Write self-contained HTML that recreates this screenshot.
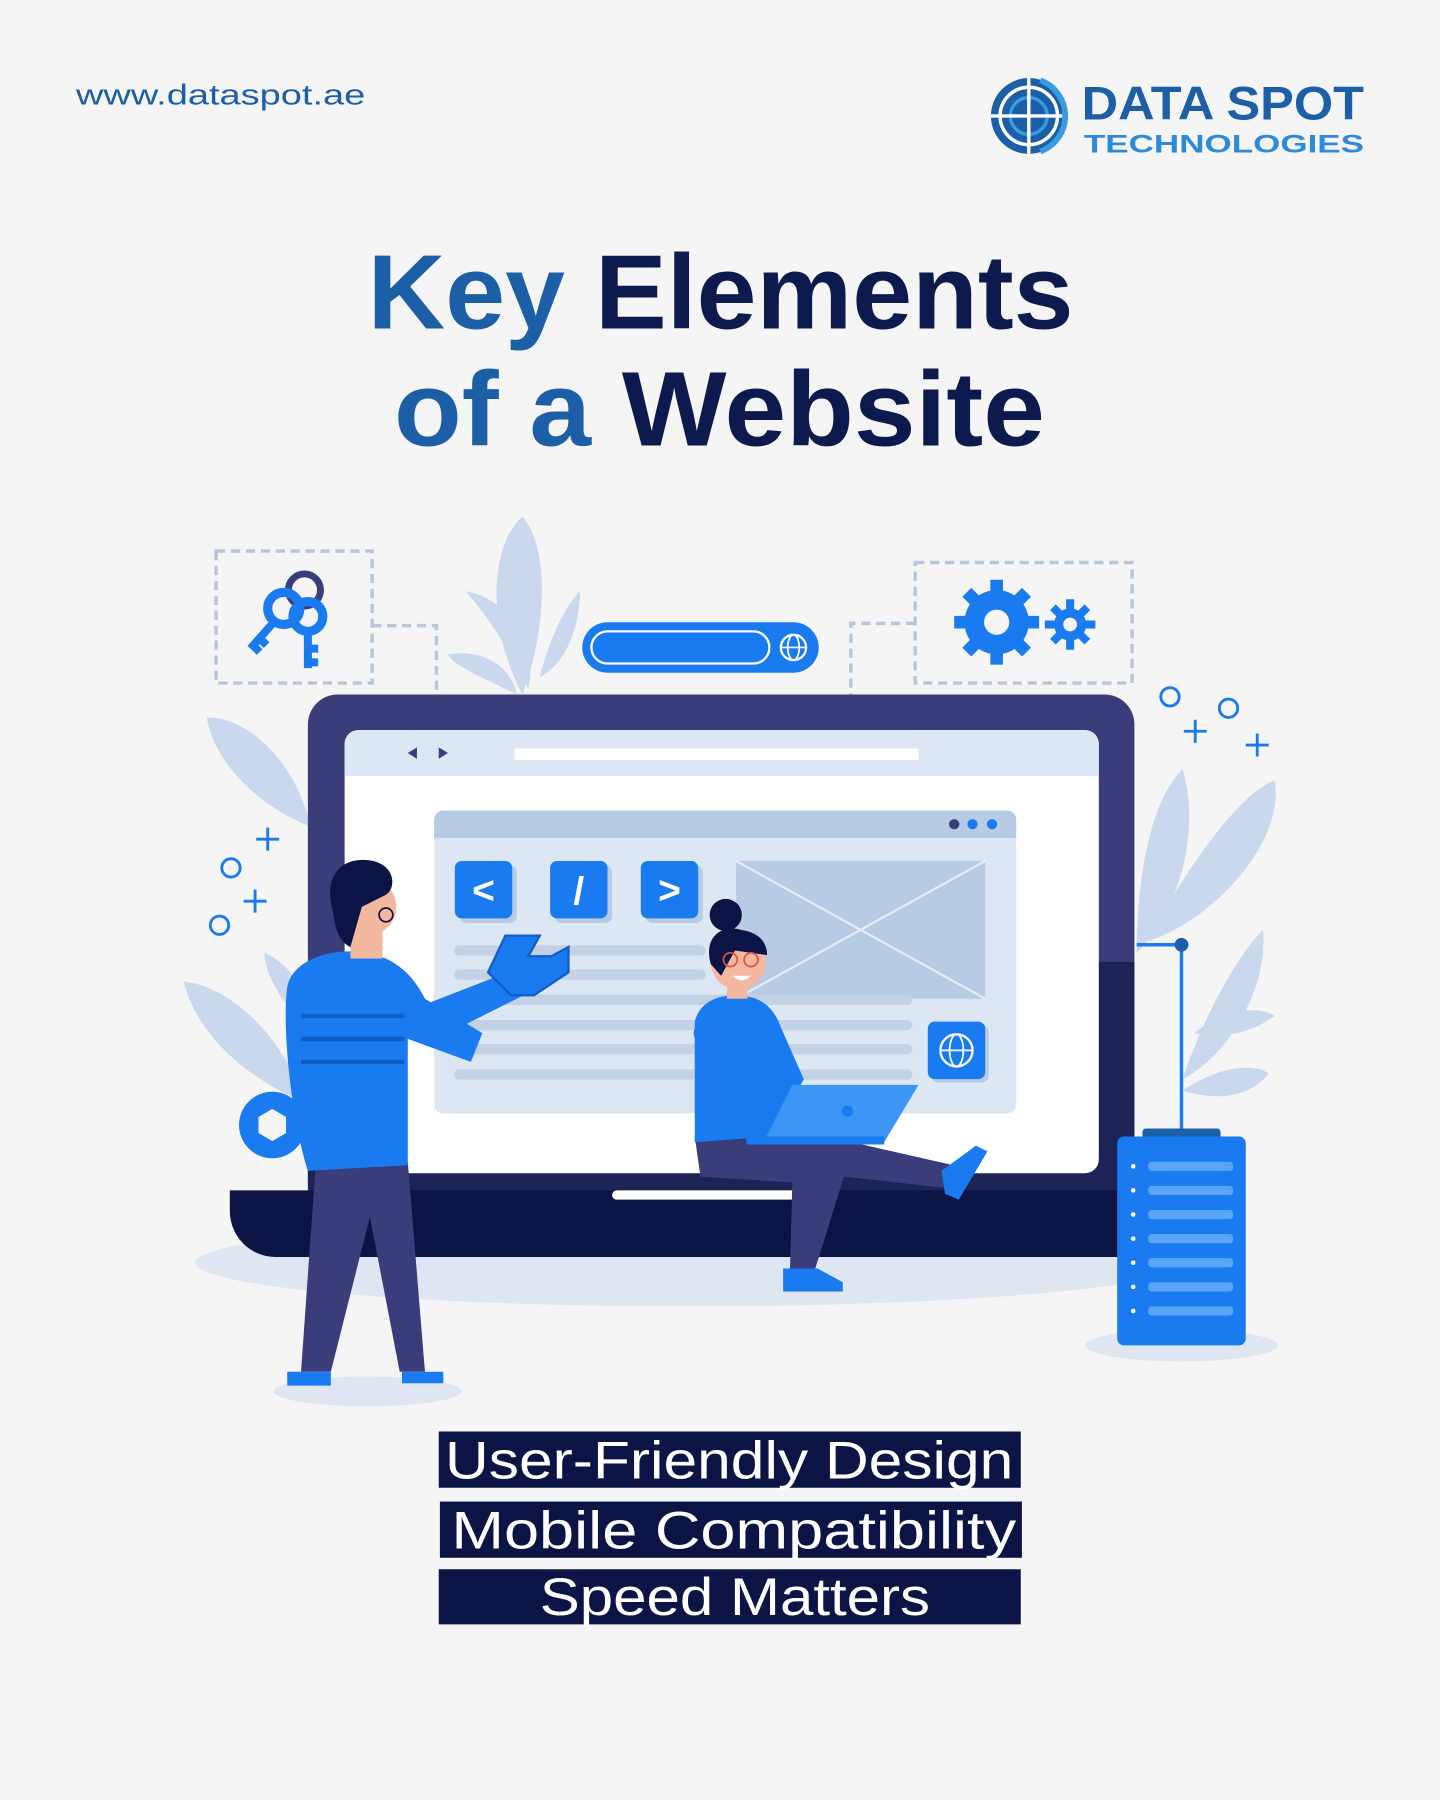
<!DOCTYPE html>
<html><head><meta charset="utf-8">
<style>
html,body{margin:0;padding:0;background:#f5f5f6;}
svg{display:block;}
</style></head>
<body>
<svg width="1440" height="1800" viewBox="0 0 1254 1568" xmlns="http://www.w3.org/2000/svg" font-family="Liberation Sans, sans-serif">
<rect width="1254" height="1568" fill="#f5f5f6"/>

<!-- header -->
<text x="66" y="91" font-size="25" fill="#1d5fa6" textLength="252" lengthAdjust="spacingAndGlyphs">www.dataspot.ae</text>
<g>
  <circle cx="896" cy="101" r="33" fill="#1d5fa6"/>
  <circle cx="896" cy="101" r="25" fill="none" stroke="#fff" stroke-width="3"/>
  <circle cx="896" cy="101" r="16" fill="none" stroke="#3a9ce0" stroke-width="3"/>
  <line x1="863" y1="101" x2="929" y2="101" stroke="#fff" stroke-width="3"/>
  <line x1="896" y1="68" x2="896" y2="134" stroke="#fff" stroke-width="3"/>
  <path d="M906 70 A33 33 0 0 1 906 132" fill="none" stroke="#3a9ce0" stroke-width="5"/>
</g>
<text x="942" y="104" font-size="41" font-weight="bold" fill="#1d5fa6" textLength="246" lengthAdjust="spacingAndGlyphs">DATA SPOT</text>
<text x="944" y="133" font-size="22" font-weight="bold" fill="#2d8ad8" textLength="244" lengthAdjust="spacingAndGlyphs">TECHNOLOGIES</text>

<!-- title -->
<text x="320" y="286" font-size="92" font-weight="bold" textLength="615" lengthAdjust="spacingAndGlyphs"><tspan fill="#1d5fa6">Key </tspan><tspan fill="#0c1a4d">Elements</tspan></text>
<text x="343" y="388" font-size="92" font-weight="bold" textLength="567" lengthAdjust="spacingAndGlyphs"><tspan fill="#1d5fa6">of a </tspan><tspan fill="#0c1a4d">Website</tspan></text>

<!-- leaves -->
<g fill="#c9d8ec">
  <path d="M455 605 C420 540 430 470 455 450 C480 480 475 550 455 605Z"/>
  <path d="M460 600 C440 560 420 530 405 515 C440 520 470 560 460 600Z"/>
  <path d="M470 590 C480 550 495 525 505 515 C505 550 490 580 470 590Z"/>
  <path d="M450 605 C420 590 395 580 390 570 C420 565 445 580 450 605Z"/>
  <path d="M270 720 C220 700 185 660 180 625 C220 625 260 670 270 720Z"/>
  <path d="M265 960 C215 940 170 900 160 855 C205 860 250 910 265 960Z"/>
  <path d="M270 900 C250 880 230 850 230 830 C255 840 270 870 270 900Z"/>
  <path d="M990 830 C990 770 1000 700 1030 670 C1045 720 1030 790 990 830Z"/>
  <path d="M1000 820 C1030 760 1080 690 1110 680 C1120 730 1060 800 1000 820Z"/>
  <path d="M1030 940 C1050 880 1080 830 1100 810 C1105 860 1070 920 1030 940Z"/>
  <path d="M1030 950 C1060 930 1090 925 1105 935 C1090 955 1060 960 1030 950Z"/>
  <path d="M1040 900 C1065 880 1095 875 1110 885 C1090 900 1065 905 1040 900Z"/>
</g>

<!-- dashed boxes and connectors -->
<g fill="none" stroke="#b8c6da" stroke-width="3" stroke-dasharray="8 5">
  <rect x="188" y="480" width="136" height="115"/>
  <polyline points="324,545 380,545 380,605"/>
  <rect x="797" y="490" width="189" height="105"/>
  <polyline points="797,543 741,543 741,605"/>
</g>
<!-- keys -->
<g>
  <circle cx="265" cy="514" r="14" fill="none" stroke="#3a3d7c" stroke-width="6"/>
  <circle cx="247" cy="530" r="14" fill="none" stroke="#1a7bf0" stroke-width="8"/>
  <path d="M240 540 L218 565 M226 556 L232 562 M220 562 L226 568" stroke="#1a7bf0" stroke-width="7" fill="none"/>
  <circle cx="268" cy="537" r="13" fill="none" stroke="#1a7bf0" stroke-width="8"/>
  <path d="M268 548 L268 582 M268 565 L277 565 M268 577 L277 577" stroke="#1a7bf0" stroke-width="7" fill="none"/>
</g>
<!-- gears -->
<g fill="#1a7bf0">
  <circle cx="868" cy="542" r="28"/>
  <g stroke="#1a7bf0" stroke-width="11">
    <line x1="868" y1="505" x2="868" y2="579"/><line x1="831" y1="542" x2="905" y2="542"/>
    <line x1="842" y1="516" x2="894" y2="568"/><line x1="894" y1="516" x2="842" y2="568"/>
  </g>
  <circle cx="868" cy="542" r="11" fill="#f5f5f6"/>
  <circle cx="932" cy="544" r="14"/>
  <g stroke="#1a7bf0" stroke-width="7">
    <line x1="932" y1="522" x2="932" y2="566"/><line x1="910" y1="544" x2="954" y2="544"/>
    <line x1="917" y1="529" x2="947" y2="559"/><line x1="947" y1="529" x2="917" y2="559"/>
  </g>
  <circle cx="932" cy="544" r="6" fill="#f5f5f6"/>
</g>
<!-- search bar -->
<rect x="507" y="542" width="206" height="44" rx="22" fill="#1a7bf0"/>
<rect x="515" y="550" width="155" height="28" rx="14" fill="none" stroke="#fff" stroke-width="2"/>
<circle cx="691" cy="564" r="11" fill="none" stroke="#fff" stroke-width="2"/>
<ellipse cx="691" cy="564" rx="5" ry="11" fill="none" stroke="#fff" stroke-width="1.5"/>
<line x1="680" y1="564" x2="702" y2="564" stroke="#fff" stroke-width="1.5"/>

<!-- decorations -->
<g fill="none" stroke="#1a7bf0" stroke-width="2.5">
  <circle cx="1019" cy="607" r="8"/><circle cx="1070" cy="617" r="8"/>
  <path d="M1041 627v20M1031 637h20M1095 639v20M1085 649h20"/>
  <circle cx="201" cy="756" r="8"/><circle cx="191" cy="806" r="8"/>
  <path d="M233 721v20M223 731h20M222 775v20M212 785h20"/>
</g>

<!-- laptop shadow -->
<ellipse cx="600" cy="1100" rx="430" ry="38" fill="#dfe6f2"/>
<!-- laptop -->
<rect x="268" y="605" width="720" height="450" rx="26" fill="#3b3d7b"/>
<rect x="268" y="838" width="720" height="217" fill="#1c2357"/>
<rect x="300" y="636" width="657" height="386" rx="12" fill="#ffffff"/>
<path d="M300 676 V648 a12 12 0 0 1 12 -12 H945 a12 12 0 0 1 12 12 V676Z" fill="#dde7f4"/>
<path d="M355 656 l8 -5 v10z M390 656 l-8 -5 v10z" fill="#3b3d7b"/>
<rect x="448" y="652" width="352" height="10" fill="#fff"/>
<!-- inner window -->
<rect x="378" y="706" width="507" height="264" rx="8" fill="#dde6f3"/>
<path d="M378 730 V714 a8 8 0 0 1 8 -8 H877 a8 8 0 0 1 8 8 V730Z" fill="#b8cbe4"/>
<circle cx="831" cy="718" r="4.5" fill="#3b3d7b"/><circle cx="847" cy="718" r="4.5" fill="#1a7bf0"/><circle cx="864" cy="718" r="4.5" fill="#1a7bf0"/>
<g>
  <rect x="400" y="754" width="50" height="50" rx="6" fill="#b8cbe4"/>
  <rect x="396" y="750" width="50" height="50" rx="6" fill="#1a7bf0"/>
  <text x="421" y="787" font-size="34" font-weight="bold" fill="#fff" text-anchor="middle">&lt;</text>
  <rect x="483" y="754" width="50" height="50" rx="6" fill="#b8cbe4"/>
  <rect x="479" y="750" width="50" height="50" rx="6" fill="#1a7bf0"/>
  <text x="504" y="788" font-size="34" font-weight="bold" fill="#fff" text-anchor="middle">/</text>
  <rect x="562" y="754" width="50" height="50" rx="6" fill="#b8cbe4"/>
  <rect x="558" y="750" width="50" height="50" rx="6" fill="#1a7bf0"/>
  <text x="583" y="787" font-size="34" font-weight="bold" fill="#fff" text-anchor="middle">&gt;</text>
</g>
<rect x="641" y="750" width="217" height="120" fill="#b8cbe4"/>
<path d="M641 750 L858 870 M858 750 L641 870" stroke="#e5ecf6" stroke-width="2"/>
<g stroke="#c3d1e5" stroke-width="9" stroke-linecap="round">
  <line x1="400" y1="828" x2="610" y2="828"/>
  <line x1="400" y1="849" x2="610" y2="849"/>
  <line x1="400" y1="871" x2="790" y2="871"/>
  <line x1="400" y1="893" x2="790" y2="893"/>
  <line x1="400" y1="914" x2="790" y2="914"/>
  <line x1="400" y1="936" x2="790" y2="936"/>
</g>
<rect x="811" y="893" width="50" height="50" rx="6" fill="#b8cbe4"/>
<rect x="808" y="890" width="50" height="50" rx="6" fill="#1a7bf0"/>
<circle cx="833" cy="915" r="14" fill="none" stroke="#fff" stroke-width="2"/>
<ellipse cx="833" cy="915" rx="6" ry="14" fill="none" stroke="#fff" stroke-width="1.5"/>
<line x1="819" y1="915" x2="847" y2="915" stroke="#fff" stroke-width="1.5"/>
<!-- base -->
<path d="M200 1037 H1000 V1075 a20 20 0 0 1 -20 20 H240 a40 40 0 0 1 -40 -40Z" fill="#0c1445"/>
<rect x="533" y="1037" width="167" height="8" rx="4" fill="#fff"/>

<!-- server -->
<ellipse cx="1029" cy="1172" rx="84" ry="14" fill="#dfe6f2"/>
<polyline points="990,823 1029,823 1029,990" fill="none" stroke="#1a7bf0" stroke-width="3"/>
<circle cx="1029" cy="823" r="6" fill="#1a5fa8"/>
<rect x="995" y="983" width="68" height="10" rx="3" fill="#1a5fa8"/>
<rect x="973" y="990" width="112" height="182" rx="6" fill="#1a7bf0"/>
<g fill="#5aa5f7">
  <rect x="1000" y="1012" width="74" height="8" rx="3"/><rect x="1000" y="1033" width="74" height="8" rx="3"/>
  <rect x="1000" y="1054" width="74" height="8" rx="3"/><rect x="1000" y="1075" width="74" height="8" rx="3"/>
  <rect x="1000" y="1096" width="74" height="8" rx="3"/><rect x="1000" y="1117" width="74" height="8" rx="3"/>
  <rect x="1000" y="1138" width="74" height="8" rx="3"/>
</g>
<g fill="#fff"><circle cx="987" cy="1016" r="2"/><circle cx="987" cy="1037" r="2"/><circle cx="987" cy="1058" r="2"/><circle cx="987" cy="1079" r="2"/><circle cx="987" cy="1100" r="2"/><circle cx="987" cy="1121" r="2"/><circle cx="987" cy="1142" r="2"/></g>

<!-- man -->
<ellipse cx="320" cy="1212" rx="82" ry="13" fill="#dfe6f2"/>
<circle cx="237" cy="980" r="29" fill="#1a7bf0"/>
<polygon points="237,966 249,973 249,987 237,994 225,987 225,973" fill="#f5f5f6"/>
<path d="M275 1012 L355 1012 L370 1195 L348 1195 L322 1060 L288 1195 L262 1195Z" fill="#3b3d7b"/>
<path d="M250 1195 h38 v12 h-38z M350 1195 h36 l0 10 h-36z" fill="#1a7bf0"/>
<path d="M250 860 C255 835 290 825 320 830 C345 835 360 850 370 870 L420 900 L410 925 L355 905 L355 1015 L268 1020 C255 980 245 900 250 860Z" fill="#1a7bf0"/>
<path d="M262 885 h90 M262 905 h90 M262 925 h90" stroke="#0f5ec8" stroke-width="4"/>
<path d="M370 875 L460 840 L470 860 L380 905Z" fill="#1a7bf0"/>
<path d="M440 815 l30 0 l-10 18 l20 0 l15 -8 l0 22 l-30 20 l-20 0 l-20 -20Z" fill="#1a7bf0" stroke="#0f5ec8" stroke-width="2"/>
<rect x="305" y="805" width="28" height="30" fill="#f4b7a0"/>
<circle cx="320" cy="790" r="25" fill="#f4b7a0"/>
<path d="M290 795 C280 760 300 745 325 750 C345 755 345 775 335 780 L315 790 L305 825 C295 820 292 810 290 795Z" fill="#0c1445"/>
<circle cx="336" cy="797" r="6" fill="none" stroke="#0c1445" stroke-width="1.5"/>

<!-- woman -->
<ellipse cx="708" cy="1126" rx="40" ry="8" fill="#dfe6f2"/>
<path d="M605 990 L720 990 L830 1015 L825 1035 L735 1025 L710 1105 L688 1105 L690 1030 L610 1025Z" fill="#3b3d7b"/>
<path d="M682 1105 h30 l22 12 v8 h-52z" fill="#1a7bf0"/>
<path d="M820 1020 l30 -22 l10 5 l-25 42 l-12 -5z" fill="#1a7bf0"/>
<path d="M605 890 C610 870 630 865 650 868 C665 870 675 880 680 895 L700 940 L672 990 L605 995Z" fill="#1a7bf0"/>
<path d="M612 900 L640 975 L670 985" stroke="#1a7bf0" stroke-width="16" fill="none" stroke-linecap="round"/>
<path d="M690 945 h110 l-30 50 h-105z" fill="#3d95f5"/>
<rect x="650" y="990" width="120" height="7" fill="#1a7bf0"/>
<circle cx="738" cy="968" r="5" fill="#1a7bf0"/>
<rect x="633" y="848" width="18" height="22" fill="#f4b7a0"/>
<circle cx="643" cy="838" r="24" fill="#f4b7a0"/>
<path d="M619 840 C612 815 630 805 645 810 C660 812 668 820 668 832 L640 828 L628 850Z" fill="#0c1445"/>
<circle cx="632" cy="797" r="14" fill="#0c1445"/>
<circle cx="636" cy="836" r="6" fill="none" stroke="#e2533d" stroke-width="1.5"/>
<circle cx="654" cy="836" r="6" fill="none" stroke="#e2533d" stroke-width="1.5"/>
<path d="M638 850 q8 8 16 0z" fill="#fff"/>

<!-- labels -->
<rect x="382" y="1247" width="507" height="49" fill="#0c1445"/>
<text x="635" y="1288" font-size="46" fill="#fff" text-anchor="middle" textLength="495" lengthAdjust="spacingAndGlyphs">User-Friendly Design</text>
<rect x="383" y="1308" width="507" height="49" fill="#0c1445"/>
<text x="639" y="1349" font-size="46" fill="#fff" text-anchor="middle" textLength="492" lengthAdjust="spacingAndGlyphs">Mobile Compatibility</text>
<rect x="382" y="1367" width="507" height="48" fill="#0c1445"/>
<text x="640" y="1407" font-size="46" fill="#fff" text-anchor="middle" textLength="340" lengthAdjust="spacingAndGlyphs">Speed Matters</text>
</svg>
</body></html>
